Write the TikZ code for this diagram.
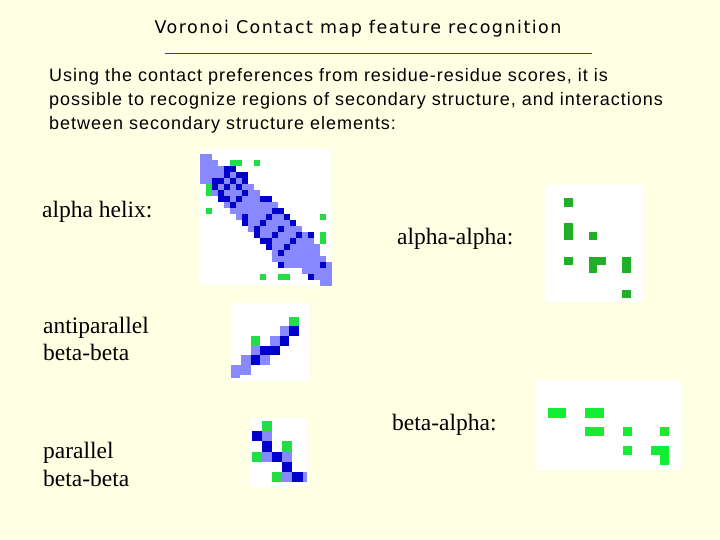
\documentclass[tikz,border=0pt]{standalone}
\usepackage{fontspec}
\newfontfamily\titlefont[LetterSpace=8.5]{DejaVu Sans}
\newfontfamily\bodyfont[LetterSpace=5.5]{Liberation Sans}
\newfontfamily\labelfont{Liberation Serif}
\definecolor{bg}{RGB}{255,255,228}
\definecolor{lb}{RGB}{136,136,255}
\definecolor{db}{RGB}{0,0,204}
\definecolor{gr}{RGB}{34,221,68}
\definecolor{grd}{RGB}{34,175,40}
\definecolor{grb}{RGB}{17,238,51}
\definecolor{rulec}{RGB}{60,60,110}
\tikzset{
  titletext/.style={anchor=base,inner sep=0pt,font=\titlefont\fontsize{17.5}{17.5}\selectfont},
  bodytext/.style={anchor=base west,inner sep=0pt,font=\bodyfont\fontsize{18}{18}\selectfont},
  labeltext/.style={anchor=base west,inner sep=0pt,font=\labelfont\fontsize{23.5}{23.5}\selectfont},
  mapbox/.style={fill=white}
}
\begin{document}
\begin{tikzpicture}[x=1pt,y=-1pt]
\fill[bg] (0,0) rectangle (720,540);
\useasboundingbox (0,0) rectangle (720,540);

% title and rule
\node[titletext] (title) at (358,34) {Voronoi Contact map feature recognition};
\coordinate (ruleL) at (165,53);
\coordinate (ruleR) at (592,53);
\draw[rulec,line width=0.8pt] (ruleL) -- (ruleR);

% body text
\node[bodytext] (body1) at (49,82) {Using the contact preferences from residue-residue scores, it is};
\node[bodytext] (body2) at (49,106) {possible to recognize regions of secondary structure, and interactions};
\node[bodytext] (body3) at (49,130) {between secondary structure elements:};

% labels
\node[labeltext] (lhelix) at (42,218) {alpha helix:};
\node[labeltext] (laa) at (397,244) {alpha-alpha:};
\node[labeltext] (lanti1) at (43,333) {antiparallel};
\node[labeltext] (lanti2) at (43,360) {beta-beta};
\node[labeltext] (lba) at (392,430) {beta-alpha:};
\node[labeltext] (lpar1) at (43,458) {parallel};
\node[labeltext] (lpar2) at (43,486) {beta-beta};

% ---- alpha helix map
\fill[mapbox] (199,149) rectangle (331,285);
\begin{scope}[shift={(199.67,147.67)},x=6pt,y=-6pt]
  \foreach \r/\lo/\hi in {1/0/1,2/0/2,3/0/3,4/0/5,5/0/7,6/1/8,7/2/9,8/3/10,9/4/12,10/5/13,
      11/6/14,12/7/15,13/8/16,14/9/17,15/10/18,16/11/19,17/12/19,18/12/20,19/13/21,20/17/21,21/18/21,22/20/21}
    {\fill[lb] (\lo,\r) rectangle (\hi+1,\r+1);}
  \foreach \c/\r in {4/3,5/3, 4/4,6/4,7/4, 2/5,3/5,5/5,7/5, 2/6,4/6,6/6, 3/7,7/7,
      3/8,4/8,6/8,10/8,11/8, 5/9, 12/10,13/10, 7/11,11/11,14/11, 7/12,10/12,15/12,
      9/13,13/13, 9/14,12/14,16/14,18/14, 10/15,11/15,15/15, 11/16,14/16, 13/17,
      13/19,20/19, 18/21}
    {\fill[db] (\c,\r) rectangle +(1,1);}
  \foreach \c/\r in {5/2,6/2,9/2, 1/6,1/7, 1/10, 20/11, 20/14,20/15, 10/21,13/21,14/21}
    {\fill[gr] (\c,\r) rectangle +(1,1);}
\end{scope}

% ---- alpha-alpha map
\fill[mapbox] (545,185) rectangle (643,302);
\begin{scope}[grd]
  \fill (564,198) rectangle (573,207);
  \fill (564,223) rectangle (573,240);
  \fill (589,232) rectangle (597,240);
  \fill (564,257) rectangle (573,265);
  \fill (589,257) rectangle (606,265);
  \fill (589,265) rectangle (597,273);
  \fill (622,257) rectangle (631,273);
  \fill (622,290) rectangle (631,298);
\end{scope}

% ---- antiparallel beta-beta map
\fill[mapbox] (231,303) rectangle (309,381);
\begin{scope}[shift={(231.3,316.7)},x=9.67pt,y=-9.67pt]
  \foreach \c/\r in {5/1, 4/2, 2/3, 1/4, 3/4, 0/5, 1/5}
    {\fill[lb] (\c,\r) rectangle +(1,1);}
  \fill[lb] (0,6) rectangle (0.9,6.35);
  \foreach \c/\r in {6/1, 5/2, 3/3, 4/3, 2/4}
    {\fill[db] (\c,\r) rectangle +(1,1);}
  \foreach \c/\r in {6/0, 2/2}
    {\fill[gr] (\c,\r) rectangle +(1,1);}
\end{scope}

% ---- parallel beta-beta map
\fill[mapbox] (250,418) rectangle (307,487);
\begin{scope}[shift={(251.5,421)},x=10.2pt,y=-10.2pt]
  \foreach \c/\r in {1/1, 1/3, 3/3, 3/5}
    {\fill[lb] (\c,\r) rectangle +(1,1);}
  \fill[lb] (5,5) rectangle (5.43,6);
  \foreach \c/\r in {0/1, 1/2, 2/3, 3/4, 4/5}
    {\fill[db] (\c,\r) rectangle +(1,1);}
  \foreach \c/\r in {1/0, 3/2, 0/3, 2/5}
    {\fill[gr] (\c,\r) rectangle +(1,1);}
\end{scope}

% ---- beta-alpha map
\fill[mapbox] (536,380) rectangle (681,470);
\begin{scope}[grb]
  \fill (548.3,407.7) rectangle (566,417.7);
  \fill (585,407.7) rectangle (604,417.7);
  \fill (585,426.7) rectangle (604,436);
  \fill (622.7,426.7) rectangle (631.7,436);
  \fill (660,426.7) rectangle (669.3,436);
  \fill (622.7,445.7) rectangle (631.7,455);
  \fill (651,445.7) rectangle (669.3,455);
  \fill (660,455) rectangle (669.3,465);
\end{scope}
\end{tikzpicture}
\end{document}
